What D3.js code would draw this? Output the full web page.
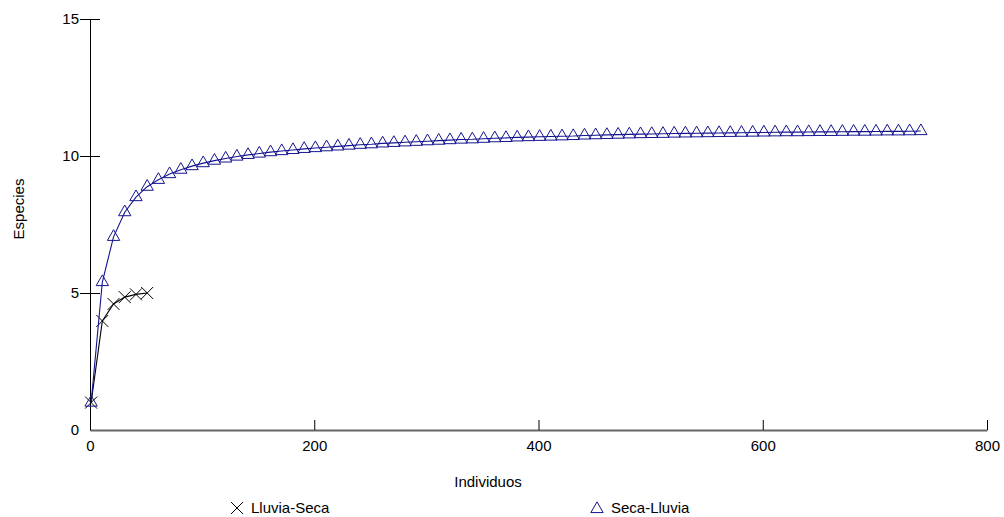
<!DOCTYPE html>
<html>
<head>
<meta charset="utf-8">
<script src="https://cdn.jsdelivr.net/npm/d3@7"></script>
<style>
  body { margin: 0; background: #fff; }
  text { font-family: Arial, "Liberation Sans", sans-serif; }
</style>
</head>
<body>
<div id="chrt"></div>
<script>
// rarefaction curves: individuals vs species
const xTicks = [0, 200, 400, 600, 800];
const yTicks = [0, 5, 10, 15];

const lluviaSecaX = [1, 11, 21, 31, 41, 51];
const lluviaSecaY = [1, 3.98, 4.6, 4.85, 4.95, 5.0];

const secaLluviaX = [1, 11, 21, 31, 41, 51, 61, 71, 81, 91,
  101, 111, 121, 131, 141, 151, 161, 171, 181, 191,
  201, 211, 221, 231, 241, 251, 261, 271, 281, 291,
  301, 311, 321, 331, 341, 351, 361, 371, 381, 391,
  401, 411, 421, 431, 441, 451, 461, 471, 481, 491,
  501, 511, 521, 531, 541, 551, 561, 571, 581, 591,
  601, 611, 621, 631, 641, 651, 661, 671, 681, 691,
  701, 711, 721, 731, 741];
const secaLluviaY = [1, 5.4, 7.05, 7.95, 8.5, 8.88, 9.13, 9.34, 9.5, 9.63,
  9.74, 9.83, 9.91, 9.98, 10.04, 10.09, 10.14, 10.18, 10.22, 10.26,
  10.29, 10.32, 10.35, 10.38, 10.41, 10.43, 10.46, 10.48, 10.5, 10.52,
  10.54, 10.56, 10.58, 10.6, 10.61, 10.63, 10.65, 10.66, 10.68, 10.69,
  10.7, 10.71, 10.72, 10.73, 10.75, 10.76, 10.77, 10.78, 10.79, 10.8,
  10.805, 10.81, 10.82, 10.825, 10.83, 10.835, 10.84, 10.845, 10.85, 10.855,
  10.86, 10.865, 10.87, 10.87, 10.875, 10.88, 10.88, 10.885, 10.89, 10.89,
  10.895, 10.9, 10.9, 10.905, 10.91];

const seriesNames = ['Lluvia-Seca', 'Seca-Lluvia'];
const xLabel = 'Individuos';
const yLabel = 'Especies';

const totalW = 1004, totalH = 517;
const margin = { left: 90, top: 19, right: 17, bottom: 87 };
const width = totalW - margin.left - margin.right;
const height = totalH - margin.top - margin.bottom;
const blue = '#14148f';

const toPts = (xs, ys) => xs.map((x, i) => ({ x: x, y: ys[i] }));
const series = [
  { name: seriesNames[0], pts: toPts(lluviaSecaX, lluviaSecaY), color: '#000', mark: 'x' },
  { name: seriesNames[1], pts: toPts(secaLluviaX, secaLluviaY), color: blue, mark: 'tri' }
];

const scaleX = d3.scaleLinear().domain([0, 800]).range([0, width]);
const scaleY = d3.scaleLinear().domain([0, 15]).range([height, 0]);

const svg = d3.select('#chrt').append('svg')
    .attr('width', totalW)
    .attr('height', totalH);
const chrt = svg.append('g')
    .attr('transform', 'translate(' + margin.left + ',' + margin.top + ')');

// x axis, ticks pointing up into the plot
const xAxis = chrt.append('g')
    .attr('transform', 'translate(0,' + height + ')')
    .call(d3.axisBottom(scaleX).tickValues(xTicks).tickSize(0).tickPadding(10));
xAxis.select('.domain').attr('stroke', '#666').attr('stroke-width', 2);
xAxis.selectAll('.tick').filter((d) => d !== 0).append('line')
    .attr('y1', 0).attr('y2', -10).attr('stroke', '#000');
xAxis.selectAll('text').attr('font-size', 15).attr('fill', '#000');

// y axis, ticks crossing the axis line
const yAxis = chrt.append('g')
    .call(d3.axisLeft(scaleY).tickValues(yTicks).tickSize(10).tickPadding(1).tickSizeOuter(0));
yAxis.select('.domain').attr('stroke', '#000');
yAxis.selectAll('.tick line').attr('x1', 10).attr('x2', -10)
    .attr('display', (d) => d === 0 ? 'none' : null);
yAxis.selectAll('text').attr('font-size', 15).attr('fill', '#000');

svg.append('text')
    .attr('x', 488)
    .attr('y', 487)
    .attr('text-anchor', 'middle')
    .attr('font-size', 15)
    .text(xLabel);
svg.append('text')
    .attr('transform', 'translate(24,209) rotate(-90)')
    .attr('text-anchor', 'middle')
    .attr('font-size', 15)
    .text(yLabel);

const line = d3.line().x((d) => scaleX(d.x)).y((d) => scaleY(d.y));
const triPath = d3.symbol().type(d3.symbolTriangle).size(66)();
const xPath = 'M-6,-6L6,6M-6,6L6,-6';
const markPath = (m) => m === 'x' ? xPath : triPath;

series.forEach((s) => {
  chrt.append('path')
      .attr('fill', 'none')
      .attr('stroke', s.color)
      .attr('stroke-width', 1.1)
      .attr('d', line(s.pts));
  chrt.append('g').selectAll('path')
      .data(s.pts)
      .enter().append('path')
      .attr('transform', (d) => 'translate(' + scaleX(d.x) + ',' + scaleY(d.y) + ')')
      .attr('d', markPath(s.mark))
      .attr('fill', 'none')
      .attr('stroke', s.color)
      .attr('stroke-width', 1);
});

// legend
const legendX = [237, 597];
series.forEach((s, i) => {
  const g = svg.append('g').attr('transform', 'translate(' + legendX[i] + ',508)');
  g.append('path')
      .attr('d', markPath(s.mark))
      .attr('transform', s.mark === 'tri' ? 'translate(0,1)' : null)
      .attr('fill', 'none')
      .attr('stroke', s.color);
  g.append('text')
      .attr('x', 14)
      .attr('y', 5)
      .attr('font-size', 15)
      .text(s.name);
});
</script>
</body>
</html>
